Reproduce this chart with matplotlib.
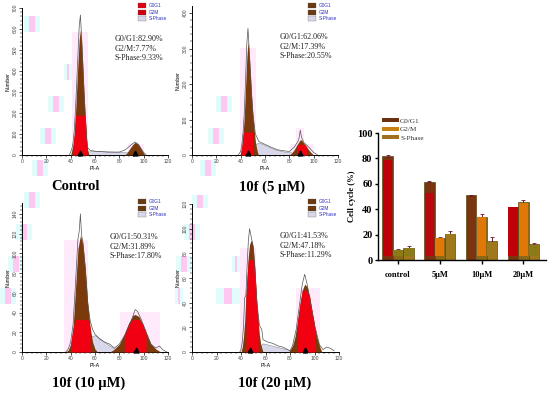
import matplotlib
matplotlib.use("Agg")
import matplotlib.pyplot as plt
from matplotlib.patches import Patch, Rectangle
import numpy as np

W, H = 550, 393

PANEL_TITLES = ["Control", "10f (5 µM)", "10f (10 µM)", "10f (20 µM)"]
PANEL_NOTES = [
    "G0/G1:82.90%\nG2/M:7.77%\nS-Phase:9.33%",
    "G0/G1:62.06%\nG2/M:17.39%\nS-Phase:20.55%",
    "G0/G1:50.31%\nG2/M:31.89%\nS-Phase:17.80%",
    "G0/G1:41.53%\nG2/M:47.18%\nS-Phase:11.29%",
]

# fitted peaks and raw outline
G0_X = [
    [40, 42, 43, 44, 45, 46, 47, 48, 49, 50, 51, 52, 53, 54, 55],
    [39, 40, 41, 42, 43, 44, 45, 46, 47, 48, 49, 50, 51, 52, 53, 54, 55],
    [36, 38, 40, 42, 44, 46, 48, 50, 52, 54, 56, 58, 60, 62],
    [40, 41, 42, 43, 44, 45, 46, 47, 48, 49, 50, 51, 52, 53, 54, 55, 56, 57, 58],
]
G0_Y = [
    [0, 50, 100, 200, 320, 440, 550, 595, 540, 420, 290, 180, 80, 25, 0],
    [0, 5, 25, 60, 110, 190, 270, 320, 285, 225, 165, 115, 75, 40, 20, 5, 0],
    [0, 2, 8, 25, 65, 105, 118, 110, 85, 50, 25, 10, 3, 0],
    [0, 4, 12, 25, 45, 62, 78, 87, 90, 90, 85, 72, 55, 38, 25, 14, 7, 3, 0],
]
G2_X = [
    [84, 86, 88, 90, 92, 93, 95, 97, 99, 101],
    [80, 82, 84, 86, 88, 89, 90, 92, 94, 96, 98, 100],
    [72, 75, 80, 84, 88, 91, 93, 96, 99, 102, 106, 110, 114],
    [79, 82, 84, 86, 88, 90, 92, 94, 96, 98, 100, 102, 104, 106],
]
G2_Y = [
    [0, 8, 25, 42, 56, 60, 55, 38, 18, 0],
    [0, 6, 15, 27, 38, 43, 42, 33, 24, 14, 6, 0],
    [0, 2, 8, 18, 30, 37, 38, 36, 29, 20, 8, 3, 0],
    [0, 5, 12, 24, 38, 50, 55, 53, 45, 33, 22, 12, 5, 0],
]
S_X = [
    [46, 52, 60, 70, 80, 88, 95],
    [44, 50, 55, 60, 65, 70, 75, 80, 86, 92],
    [44, 50, 56, 60, 65, 70, 75, 80, 85],
    [46, 54, 58, 62, 66, 70, 74, 78, 84],
]
S_Y = [
    [0, 15, 20, 17, 15, 12, 0],
    [0, 28, 35, 28, 20, 14, 10, 8, 4, 0],
    [0, 8, 16, 17, 13, 8, 4, 2, 0],
    [0, 4, 7, 6, 5, 4, 3, 2, 0],
]
RAW_X = [
    [39, 41, 42, 43, 44, 45, 46, 47, 48, 49, 50, 51, 52, 53, 54, 56, 60, 70, 80, 85, 90, 93, 96, 100, 102],
    [38, 40, 41, 42, 43, 44, 45, 46, 47, 48, 49, 50, 52, 55, 60, 65, 70, 75, 80, 84, 87, 88, 89, 90, 92, 96, 100, 103],
    [36, 38, 40, 42, 44, 46, 47, 48, 49, 50, 52, 54, 56, 58, 60, 64, 68, 72, 76, 80, 85, 90, 93, 95, 98, 102, 106, 110, 113, 116, 119],
    [39, 40, 41, 42, 43, 44, 45, 46, 47, 48, 49, 50, 51, 52, 53, 55, 57, 58, 60, 62, 66, 70, 74, 78, 80, 82, 85, 88, 90, 92, 94, 97, 100, 104, 107, 110, 113, 116],
]
RAW_Y = [
    [0, 30, 60, 120, 220, 345, 480, 610, 667, 560, 430, 300, 190, 90, 35, 22, 18, 14, 14, 25, 50, 62, 48, 12, 2],
    [0, 10, 30, 65, 120, 210, 310, 357, 300, 235, 170, 120, 60, 38, 30, 22, 15, 12, 10, 22, 38, 48, 70, 50, 35, 22, 7, 1],
    [0, 3, 10, 28, 70, 115, 122, 140, 118, 112, 85, 50, 32, 23, 18, 13, 10, 8, 4, 8, 18, 32, 43, 41, 33, 20, 8, 4, 6, 2, 0],
    [0, 2, 8, 20, 44, 46, 70, 90, 100, 95, 90, 85, 72, 55, 40, 22, 18, 10, 9, 8, 7, 5, 4, 2, 1, 5, 18, 40, 55, 63, 55, 38, 22, 6, 2, 4, 3, 1],
]
PEAK_MARKS = [[48, 93], [46, 89], [94], [47, 92]]

# red blotches inside the peaks: x from, x to, height cap
RED_G0 = [(42, 53, 190), (40, 50, 65), (40, 56, 33), (44, 54, 75)]
RED_G2 = [(90, 92, 0), (85, 95, 30), (83, 103, 33), (85, 100, 50)]

PANEL_YMAX = [700, 420, 151, 120]
PANEL_YTICKS = [
    [0, 100, 200, 300, 400, 500, 600, 700],
    [0, 100, 200, 300, 400],
    [0, 20, 40, 60, 80, 100, 120, 140],
    [0, 20, 40, 60, 80, 100, 120],
]
# left, right, bottom, top in pixels
PANEL_BOX = [(22, 168, 155, 8), (192, 338, 155, 6), (22, 168, 352, 203), (192, 339, 352, 204)]
LEGEND_AT = [(138, 3), (308, 3), (138, 199), (308, 199)]
NOTE_AT = [(115, 35), (280, 33), (110, 233), (280, 232)]
TITLE_AT = [(76, 190), (272, 191), (89, 387), (275, 387)]
LEGEND_FACE = [["#e00010", "#d00010", "#d8d8ea"], ["#6b3a10", "#6b3a10", "#d8d8ea"],
               ["#6b3a10", "#6b3a10", "#d8d8ea"], ["#6b3a10", "#6b3a10", "#d8d8ea"]]

# jpeg-style colour blocks around the histograms
TILES = [
    (24, 16, 16, 16), (64, 64, 8, 16), (48, 96, 16, 16), (40, 128, 16, 16), (32, 160, 16, 16), (24, 192, 16, 3),
    (216, 96, 16, 16), (208, 128, 16, 16), (200, 160, 16, 16),
    (24, 195, 16, 13), (16, 224, 16, 16), (8, 256, 16, 16), (0, 288, 16, 16),
    (192, 195, 16, 13), (184, 224, 16, 16), (176, 256, 16, 16), (175, 288, 8, 16),
    (232, 256, 8, 16), (216, 288, 24, 16),
]
HALOS = [
    (72, 32, 16, 124), (128, 144, 16, 11),
    (240, 48, 16, 108), (290, 144, 24, 11), (296, 128, 8, 16),
    (64, 240, 24, 112), (120, 312, 40, 40),
    (240, 248, 16, 104), (296, 288, 24, 64),
]

GROUPS = ["control", "5µM", "10µM", "20µM"]
BAR_LABELS = ["G0/G1", "G2/M", "S-Phase"]
G0G1 = [82.0, 61.8, 51.0, 41.8]
G2M = [8.0, 17.4, 34.0, 45.4]
SPHASE = [9.8, 20.8, 14.8, 12.3]
G0G1_ERR = [1.0, 0.6, 0.4, 0.3]
G2M_ERR = [0.4, 1.0, 2.2, 1.5]
SPHASE_ERR = [0.9, 1.8, 3.0, 1.3]
# colour of the main body of each bar, and where it stops
BODY_G0 = ["#c00008", "#b80810", "#7a3510", "#c00008"]
BODY_G2 = ["#8a7a18", "#e07808", "#e07808", "#e07808"]
BODY_S = ["#8a7a18", "#a0781c", "#a0781c", "#8a7a18"]
CAP_G0 = [79, 53, 40, 41.8]


def fx(px):
    return px / W


def fy(py):
    return 1 - py / H


fig = plt.figure(figsize=(W / 100, H / 100), dpi=100)
plt.rcParams["font.family"] = ["Liberation Serif", "DejaVu Sans"]

for x, y, w, h in TILES:
    fig.add_artist(Rectangle((fx(x), fy(y + h)), w / W, h / H, transform=fig.transFigure,
                             color="#e2fcfc", lw=0, zorder=-2))
    fig.add_artist(Rectangle((fx(x + w / 3), fy(y + h)), w / 3 / W, h / H, transform=fig.transFigure,
                             color="#ffc8f0", lw=0, zorder=-1))
for x, y, w, h in HALOS:
    fig.add_artist(Rectangle((fx(x), fy(y + h)), w / W, h / H, transform=fig.transFigure,
                             color="#feeafa", lw=0, zorder=-1))

for i in range(4):
    left, right, bottom, top = PANEL_BOX[i]
    ax = fig.add_axes([fx(left), fy(bottom), (right - left) / W, (bottom - top) / H])
    ax.patch.set_alpha(0)
    ax.set_xlim(0, 120)
    ax.set_ylim(0, PANEL_YMAX[i])

    ax.fill_between(S_X[i], S_Y[i], color="#d8d8ea", lw=0.3, edgecolor="#777777", zorder=2)
    ax.fill_between(G0_X[i], G0_Y[i], color="#7a3a0c", lw=0, zorder=3)
    ax.fill_between(G2_X[i], G2_Y[i], color="#7a3a0c", lw=0, zorder=3)

    for xs, ys, red in ((G0_X[i], G0_Y[i], RED_G0[i]), (G2_X[i], G2_Y[i], RED_G2[i])):
        xs = np.array(xs)
        ys = np.array(ys)
        keep = (xs >= red[0]) & (xs <= red[1])
        ax.fill_between(xs[keep], np.minimum(ys[keep], red[2]), color="#f00010", lw=0, zorder=4)

    ax.plot(RAW_X[i], RAW_Y[i], color="#555555", lw=0.5, zorder=5)
    ax.plot(PEAK_MARKS[i], [PANEL_YMAX[i] * 0.012] * len(PEAK_MARKS[i]), "^", color="black", ms=3.5,
            zorder=6, clip_on=False)

    ax.spines[["top", "right"]].set_visible(False)
    ax.spines[["left", "bottom"]].set_linewidth(0.7)
    ax.set_xticks(range(0, 121, 20))
    ax.set_xticks(range(0, 121, 4), minor=True)
    ax.set_yticks(PANEL_YTICKS[i])
    ax.set_yticks(np.arange(0, PANEL_YMAX[i], PANEL_YTICKS[i][1] / 5), minor=True)
    ax.tick_params(length=2.2, width=0.5, pad=1, labelsize=3.6, labelcolor="#444444")
    ax.tick_params(which="minor", length=1.2, width=0.35)
    for lab in ax.get_xticklabels() + ax.get_yticklabels():
        lab.set_family("Liberation Sans")
    for lab in ax.get_yticklabels():
        lab.set_rotation(90)
        lab.set_va("center")
    ax.set_xlabel("PI-A", fontsize=3.8, family="Liberation Sans", labelpad=1)
    ax.set_ylabel("Number", fontsize=3.8, family="Liberation Sans", labelpad=1.5)

    lx, ly = LEGEND_AT[i]
    handles = [Patch(facecolor=c, edgecolor="#555555", lw=0.2) for c in LEGEND_FACE[i]]
    fig.legend(handles, ["G0G1", "G2M", "S-Phase"], loc="upper left",
               bbox_to_anchor=(fx(lx), fy(ly)), frameon=False, prop={"family": "Liberation Sans", "size": 3.4},
               labelcolor="#3030c0", handlelength=1.7, handleheight=1.2, handletextpad=0.5,
               labelspacing=0.35, borderpad=0, borderaxespad=0)

    fig.text(fx(NOTE_AT[i][0]), fy(NOTE_AT[i][1]), PANEL_NOTES[i], fontsize=5.8, va="top", ha="left",
             linespacing=1.26, color="#222222")
    fig.text(fx(TITLE_AT[i][0]), fy(TITLE_AT[i][1]), PANEL_TITLES[i], fontsize=10.5, fontweight="bold",
             ha="center", va="baseline")

# right hand bar chart
bx = fig.add_axes([fx(378), fy(260), 168 / W, 127 / H])
bx.patch.set_alpha(0)
pos = np.arange(len(GROUPS))
width = 0.245
edge = "#5a4a10"
err = dict(ecolor="#6a1a30", elinewidth=0.7, capsize=1.6, capthick=0.6)
bx.bar(pos - 0.25, G0G1, width, color="#7a3510", edgecolor=edge, lw=0.5, yerr=G0G1_ERR, error_kw=err, label=BAR_LABELS[0])
bx.bar(pos, G2M, width, color="#8a6a18", edgecolor=edge, lw=0.5, yerr=G2M_ERR, error_kw=err, label=BAR_LABELS[1])
bx.bar(pos + 0.25, SPHASE, width, color="#a0781c", edgecolor=edge, lw=0.5, yerr=SPHASE_ERR, error_kw=err, label=BAR_LABELS[2])
for j in range(len(GROUPS)):
    bx.bar(pos[j] - 0.25, CAP_G0[j] - 3, width * 0.9, bottom=3, color=BODY_G0[j], lw=0, zorder=3)
    bx.bar(pos[j], G2M[j] - 3.3, width * 0.9, bottom=3, color=BODY_G2[j], lw=0, zorder=3)
    bx.bar(pos[j] + 0.25, SPHASE[j] - 3.3, width * 0.9, bottom=3, color=BODY_S[j], lw=0, zorder=3)
bx.set_xlim(-0.48, 3.54)
bx.set_ylim(0, 100)
bx.set_xticks(pos)
bx.set_xticklabels(GROUPS, fontsize=6, fontweight="bold")
bx.set_yticks(range(0, 101, 20))
bx.set_yticklabels(range(0, 101, 20), fontsize=7.5, fontweight="bold")
bx.set_ylabel("Cell cycle (%)", fontsize=6.2, fontweight="bold", labelpad=1)
bx.spines[["top", "right"]].set_visible(False)
bx.spines[["left", "bottom"]].set_linewidth(1)
bx.tick_params(axis="y", length=2.5, width=1, pad=1.5)
bx.tick_params(axis="x", length=3, width=1, pad=5)

leg_handles = [Patch(facecolor=c, edgecolor="none") for c in ("#6b3010", "#c88010", "#a07020")]
bx.legend(leg_handles, BAR_LABELS, loc="upper left", bbox_to_anchor=(fx(382), fy(118)),
          bbox_transform=fig.transFigure, frameon=False, fontsize=5.2, handlelength=2.3, handleheight=0.5,
          handletextpad=0.2, labelspacing=0.42, borderpad=0, borderaxespad=0, labelcolor="#333333")

fig.savefig("out.png", dpi=100)
